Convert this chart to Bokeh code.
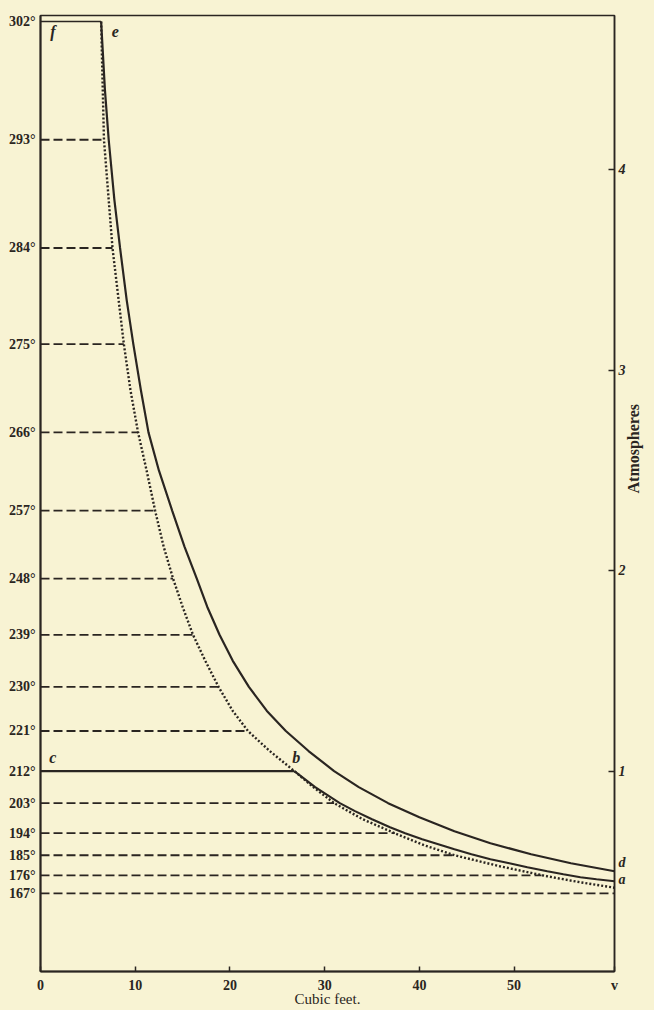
import math
from bokeh.plotting import figure
from bokeh.models import Range1d, FixedTicker, LinearAxis
from bokeh.core.properties import value
from bokeh.embed import file_html
from bokeh.resources import INLINE

# ---- data ----
temps = [302, 293, 284, 275, 266, 257, 248, 239, 230, 221, 212, 203, 194, 185, 176, 167]
pressures = [4.74, 4.15, 3.61, 3.13, 2.69, 2.30, 1.96, 1.68, 1.42, 1.20, 1.00, 0.84, 0.69, 0.58, 0.48, 0.39]
line_end_v = [6.4, 6.7, 7.6, 8.8, 10.3, 12.1, 14.0, 16.1, 18.8, 21.9, 26.8, 31.0, 37.4, 43.7, 52.9, 60.6]

# saturation curve (dotted), e ... b ... right edge
sat_v = [6.4, 6.7, 7.6, 8.8, 9.5, 10.3, 11.2, 12.1, 13.0, 14.0, 15.0, 16.1, 17.4, 18.8, 20.3,
         21.9, 24.2, 26.8, 28.8, 31.0, 34.0, 37.4, 40.5, 43.7, 48.5, 53.5, 57.0, 60.6]
sat_p = [4.74, 4.15, 3.61, 3.13, 2.90, 2.69, 2.50, 2.30, 2.12, 1.96, 1.82, 1.68, 1.55, 1.42, 1.30,
         1.20, 1.10, 1.00, 0.92, 0.84, 0.76, 0.69, 0.63, 0.58, 0.525, 0.475, 0.445, 0.418]

# solid curve e ... d
ed_v = [6.4, 6.8, 7.2, 7.8, 8.4, 9.1, 9.8, 10.6, 11.4, 12.5, 13.9, 15.2, 16.5, 17.6, 18.9,
        20.3, 22.0, 23.9, 25.9, 28.3, 31.0, 33.6, 36.7, 40.0, 43.7, 47.5, 51.8, 56.0, 60.6]
ed_p = [4.74, 4.40, 4.15, 3.85, 3.61, 3.35, 3.13, 2.90, 2.69, 2.50, 2.30, 2.12, 1.96, 1.82, 1.68,
        1.55, 1.42, 1.30, 1.20, 1.10, 1.00, 0.92, 0.84, 0.77, 0.70, 0.64, 0.585, 0.54, 0.50]

# solid curve b ... a
ba_v = [26.8, 27.9, 29.0, 30.3, 31.6, 33.2, 35.0, 36.9, 38.5, 40.3, 42.0, 43.7, 45.5, 47.5,
        49.5, 51.4, 53.5, 55.2, 57.0, 58.7, 60.6]
ba_p = [1.00, 0.96, 0.92, 0.88, 0.84, 0.80, 0.76, 0.72, 0.69, 0.66, 0.635, 0.61, 0.585, 0.56,
        0.54, 0.52, 0.50, 0.485, 0.47, 0.46, 0.45]

x_ticks = [0, 10, 20, 30, 40, 50, 60.6]
x_tick_labels = ["0", "10", "20", "30", "40", "50", "v"]
atm_ticks = [1, 2, 3, 4]
end_names = ["d", "a"]
end_p = [0.545, 0.46]

point_names = ["f", "e", "c", "b"]
point_v = [1.3, 7.9, 1.3, 27.0]
point_p = [4.69, 4.69, 1.07, 1.07]

V_MAX = 60.6
P_MAX = 4.77

BG = "#f8f3d3"
INK = "#2a2521"
SERIF = "Liberation Serif"

p = figure(width=654, height=1010, x_range=Range1d(0, V_MAX), y_range=Range1d(0, P_MAX),
           output_backend="svg", toolbar_location=None,
           min_border_left=40, min_border_right=40, min_border_top=15, min_border_bottom=39,
           background_fill_color=BG, border_fill_color=BG)
p.xgrid.visible = False
p.ygrid.visible = False
p.outline_line_color = INK
p.outline_line_width = 1.5

# left axis: temperatures
ya = p.yaxis[0]
ya.ticker = FixedTicker(ticks=pressures)
ya.major_label_overrides = {pr: f"{t}°" for pr, t in zip(pressures, temps)}
ya.major_tick_in = 0
ya.major_tick_out = 0
ya.minor_tick_in = 0
ya.minor_tick_out = 0
ya.axis_line_color = INK
ya.axis_line_width = 2
ya.major_label_standoff = 5
ya.major_label_text_font = SERIF
ya.major_label_text_font_style = "bold"
ya.major_label_text_font_size = "14px"
ya.major_label_text_color = INK

# bottom axis: cubic feet
xa = p.xaxis[0]
xa.ticker = FixedTicker(ticks=x_ticks)
xa.major_label_overrides = {t: s for t, s in zip(x_ticks, x_tick_labels)}
xa.major_tick_in = 5
xa.major_tick_out = 0
xa.minor_tick_in = 0
xa.minor_tick_out = 0
xa.major_tick_line_color = INK
xa.major_tick_line_width = 1.5
xa.axis_line_color = INK
xa.axis_line_width = 2
xa.major_label_standoff = 6
xa.major_label_text_font = SERIF
xa.major_label_text_font_style = "bold"
xa.major_label_text_font_size = "14px"
xa.major_label_text_color = INK
xa.axis_label = "Cubic feet."
xa.axis_label_text_font = SERIF
xa.axis_label_text_font_style = "normal"
xa.axis_label_text_font_size = "15px"
xa.axis_label_text_color = INK
xa.axis_label_standoff = -5

# right axis: atmospheres (marks as minor ticks, labels for 1-4 and the curve ends d, a)
r_major = end_p + atm_ticks
ra = LinearAxis(ticker=FixedTicker(ticks=r_major, minor_ticks=atm_ticks))
ra.major_label_overrides = {t: s for t, s in zip(end_p, end_names)}
ra.major_tick_in = 0
ra.major_tick_out = 0
ra.minor_tick_in = 6
ra.minor_tick_out = 0
ra.minor_tick_line_color = INK
ra.minor_tick_line_width = 1.5
ra.axis_line_color = INK
ra.axis_line_width = 1.5
ra.major_label_standoff = 4
ra.major_label_text_font = SERIF
ra.major_label_text_font_style = "bold italic"
ra.major_label_text_font_size = "14px"
ra.major_label_text_color = INK
ra.axis_label = "Atmospheres"
ra.axis_label_text_font = SERIF
ra.axis_label_text_font_style = "bold"
ra.axis_label_text_font_size = "16px"
ra.axis_label_text_color = INK
ra.axis_label_standoff = 5
try:
    ra.axis_label_orientation = math.pi / 2
except Exception:
    pass
p.add_layout(ra, "right")

# temperature lines
n = len(temps)
dash_idx = [i for i in range(n) if temps[i] not in (302, 212)]
solid_idx = [i for i in range(n) if temps[i] in (302, 212)]
p.segment(x0=[0] * len(dash_idx), y0=[pressures[i] for i in dash_idx],
          x1=[line_end_v[i] for i in dash_idx], y1=[pressures[i] for i in dash_idx],
          line_color=INK, line_width=1.8, line_dash="9 4")
p.segment(x0=[0] * len(solid_idx), y0=[pressures[i] for i in solid_idx],
          x1=[line_end_v[i] for i in solid_idx], y1=[pressures[i] for i in solid_idx],
          line_color=INK, line_width=[1.4 if temps[i] == 302 else 2.2 for i in solid_idx])

# curves
p.line(sat_v, sat_p, line_color=INK, line_width=2.4, line_dash="2 2")
p.line(ed_v, ed_p, line_color=INK, line_width=2.2)
p.line(ba_v, ba_p, line_color=INK, line_width=2.1)

# letters
p.text(x=point_v, y=point_p, text=point_names, text_font=value(SERIF),
       text_font_style="bold italic", text_font_size="16px", text_color=INK,
       text_align="center", text_baseline="middle")

html = file_html(p, INLINE)
html = html.replace("</head>", "<style>html,body{margin:0;padding:0;background:#f8f3d3;}</style></head>", 1)
open("out.html", "w").write(html)
